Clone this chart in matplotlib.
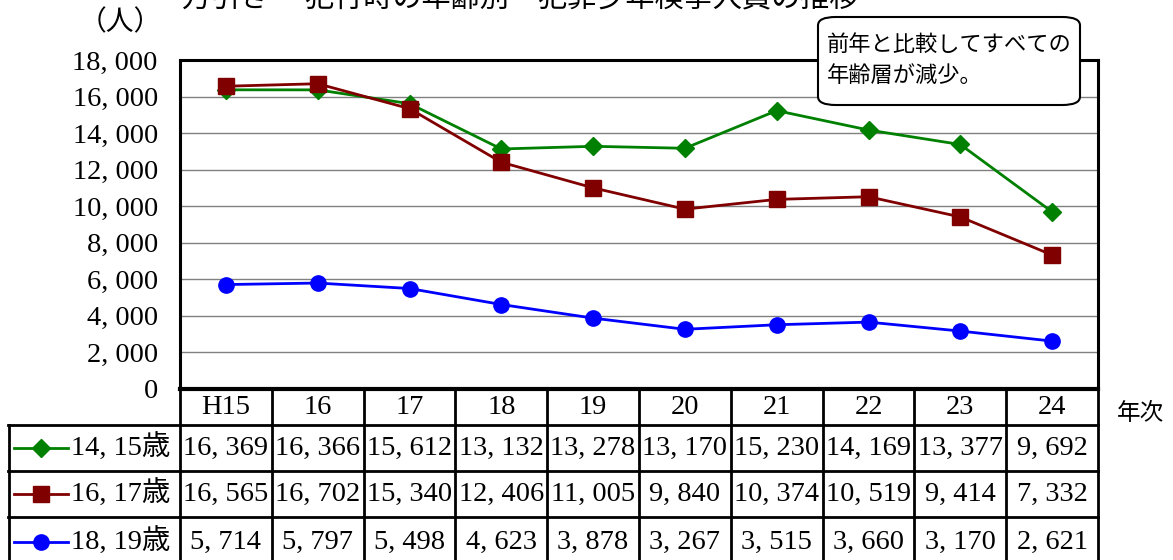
import matplotlib
matplotlib.use("Agg")
import matplotlib.pyplot as plt
from matplotlib.patches import FancyBboxPatch

# ---- data ----
years = ["H15", "16", "17", "18", "19", "20", "21", "22", "23", "24"]
series_names = ["14, 15歳", "16, 17歳", "18, 19歳"]
age_14_15 = [16369, 16366, 15612, 13132, 13278, 13170, 15230, 14169, 13377, 9692]
age_16_17 = [16565, 16702, 15340, 12406, 11005, 9840, 10374, 10519, 9414, 7332]
age_18_19 = [5714, 5797, 5498, 4623, 3878, 3267, 3515, 3660, 3170, 2621]
yticks = [0, 2000, 4000, 6000, 8000, 10000, 12000, 14000, 16000, 18000]
title = "万引き　 犯行時の年齢別　犯罪少年検挙人員の推移"
note = "前年と比較してすべての\n年齢層が減少。"
unit_label = "（人）"
xlabel = "年次"

series = [age_14_15, age_16_17, age_18_19]
colors = ["#008000", "#800000", "#0000FF"]
markers = ["D", "s", "o"]
msizes = [9, 11, 11]

SERIF = ["Liberation Serif", "Noto Sans CJK JP"]
CJK = ["Noto Sans CJK JP", "DejaVu Sans"]
FS = 20.5

W, H = 1173, 560
fig = plt.figure(figsize=(W / 100, H / 100), dpi=100)

def fx(px):
    return px / W

def fy(py):
    return 1 - py / H

L, R, T, B = 180, 1098, 60, 389
ax = fig.add_axes([fx(L), fy(B), fx(R) - fx(L), fy(T) - fy(B)])
x = list(range(len(years)))
for vals, c, m, ms in zip(series, colors, markers, msizes):
    ax.plot(x, vals, color=c, lw=2.0, marker=m, markersize=ms, zorder=3)
ax.set_xlim(-0.5, len(years) - 0.5)
ax.set_ylim(0, 18000)
ax.set_yticks(yticks)
ax.set_yticklabels([f"{v:,}".replace(",", ", ") for v in yticks],
                   fontfamily=SERIF, fontsize=FS)
ax.tick_params(axis="y", length=0, pad=16)
ax.set_xticks([])
ax.grid(axis="y", color="#808080", lw=1.0)
ax.set_axisbelow(True)
for s in ["left", "top", "right"]:
    ax.spines[s].set_linewidth(2.2)
ax.spines["bottom"].set_linewidth(3.0)

# ---- table ----
colw = (R - L) / len(years)
lead = (L - 8) / colw
tb_top, tb_bot = 389, 565
tax = fig.add_axes([fx(8), fy(tb_bot), fx(R) - fx(8), fy(tb_top) - fy(tb_bot)])
x0 = -0.5 - lead
x1 = len(years) - 0.5
tax.set_xlim(x0, x1)
tax.set_ylim(tb_bot - tb_top, 0)
tax.axis("off")
row_edges = [0, 36, 82, 128, 176]
lw_t = 2.0
tax.plot([-0.5, x1], [row_edges[0]] * 2, color="black", lw=lw_t, clip_on=False)
for yy in row_edges[1:4]:
    tax.plot([x0, x1], [yy, yy], color="black", lw=lw_t, clip_on=False)
for i in range(len(years) + 1):
    xx = i - 0.5
    tax.plot([xx, xx], [row_edges[0], row_edges[-1]], color="black", lw=lw_t, clip_on=False)
tax.plot([x0 + 0.01, x0 + 0.01], [row_edges[1], row_edges[-1]], color="black", lw=lw_t, clip_on=False)

for i, yr in enumerate(years):
    tax.text(i, (row_edges[0] + row_edges[1]) / 2 + 1, yr, ha="center", va="center",
             fontfamily=SERIF, fontsize=FS)
for r, (name, vals, c, m, ms) in enumerate(zip(series_names, series, colors, markers, msizes)):
    yc = (row_edges[r + 1] + row_edges[r + 2]) / 2
    if r == 2:
        yc = row_edges[3] + 25
    for i, v in enumerate(vals):
        tax.text(i, yc, f"{v:,}".replace(",", ", "), ha="center", va="center",
                 fontfamily=SERIF, fontsize=FS)
    lx0 = x0 + 6 / colw
    lx1 = x0 + 60 / colw
    tax.plot([lx0, lx1], [yc, yc], color=c, lw=2.0, clip_on=False)
    tax.plot([(lx0 + lx1) / 2], [yc], color=c, marker=m, markersize=ms, clip_on=False)
    tax.text(x0 + 63 / colw, yc, name, ha="left", va="center",
             fontfamily=SERIF, fontsize=FS)

# ---- texts ----
fig.text(fx(520), fy(-1), title, ha="center", va="center", fontfamily=CJK, fontsize=21)
fig.text(fx(120), fy(22), unit_label, ha="center", va="center", fontfamily=CJK, fontsize=20)
fig.text(fx(1140), fy(414), xlabel, ha="center", va="center", fontfamily=CJK, fontsize=17)

box = FancyBboxPatch((fx(818), fy(105)), fx(1080) - fx(818), fy(17) - fy(105),
                     boxstyle="round,pad=0,rounding_size=0.015",
                     transform=fig.transFigure, facecolor="white", edgecolor="black",
                     lw=1.5, zorder=5)
fig.patches.append(box)
fig.text(fx(827), fy(60), note, ha="left", va="center", fontfamily=CJK, fontsize=16,
         linespacing=1.4, zorder=6)

fig.savefig("out.png", dpi=100)
